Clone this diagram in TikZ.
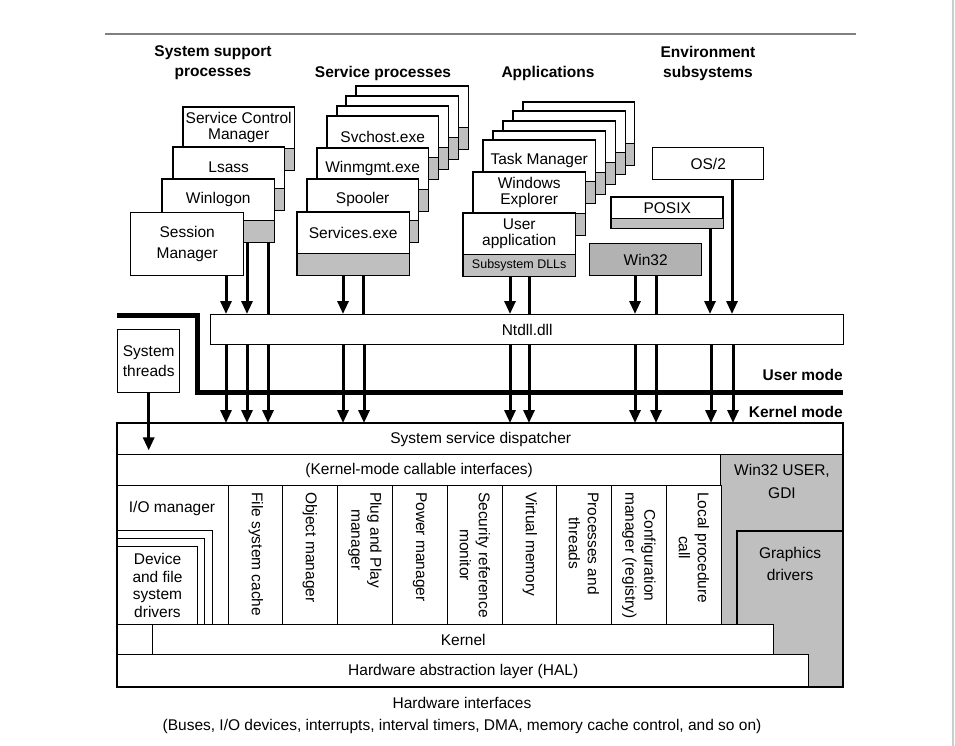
\documentclass[tikz,border=0pt]{standalone}
\usepackage{fontspec}
\setmainfont{Liberation Sans}
\usetikzlibrary{arrows.meta,calc}
\newcommand{\diagfont}{\fontsize{15.5pt}{18pt}\selectfont}
\newcommand{\procbox}[5]{%
  \node[stackbox, anchor=north west, minimum width={(#4-#2)*1pt}] (#1) at (#2,#3) {};
  \fill[bandgray] ([yshift=22pt]#1.south west) rectangle (#1.south east);
  \draw[boxline] ([yshift=22pt]#1.south west) -- ([yshift=22pt]#1.south east);
  \draw[boxline] (#1.north west) rectangle (#1.south east);
  \node[align=center, font=\fontsize{15.5pt}{15.5pt}\selectfont] (#1-txt) at ($(#1.north)!0.5!([yshift=22pt]#1.south)$) {#5};
}
\begin{document}
\begin{tikzpicture}[x=1pt,y=-1pt,
  every node/.style={font=\diagfont},
  boxline/.style={line width=1.4pt},
  box/.style={draw, line width=1.4pt, fill=white, inner sep=0pt, anchor=north west, align=center},
  stackbox/.style={fill=white, inner sep=0pt, minimum height=63pt},
  bandgray/.style={fill=black!25},
  heading/.style={font=\fontsize{15.5pt}{20pt}\selectfont\bfseries, align=center},
  arr/.style={line width=3pt, -{Triangle[width=11pt,length=13pt]}},
  link/.style={line width=3pt},
  coltext/.style={rotate=-90, anchor=west, align=center, inner sep=0pt, font=\fontsize{15.5pt}{19pt}\selectfont}]
\useasboundingbox (0,0) rectangle (955,746);
\draw[line width=2.5pt, black!50] (105,34) -- (856,34);
\draw[line width=1.5pt, black!20] (953,0) -- (953,746);

\node[heading] (hsys) at (213,63) {System support\\processes};
\node[heading] (hsvc) at (383,73) {Service processes};
\node[heading] (happ) at (548,73) {Applications};
\node[heading] (henv) at (708,63) {Environment\\subsystems};

\procbox{scm}{183}{107}{294}{Service Control\\Manager}
\procbox{lsass}{173}{147}{284}{Lsass}
\procbox{winlogon}{162}{179}{274}{Winlogon}
\node[box, minimum width=113pt, minimum height=63pt, font=\fontsize{15.5pt}{21pt}\selectfont] (sm) at (130,212) {Session\\Manager};

\procbox{svcc}{356}{86}{468}{}
\procbox{svcb}{346}{96}{458}{}
\procbox{svca}{337}{106}{448}{}
\procbox{svchost}{327}{116}{438}{Svchost.exe}
\procbox{winmgmt}{317}{148}{428}{Winmgmt.exe}
\procbox{spooler}{307}{179}{418}{Spooler}
\procbox{services}{297}{212}{409}{Services.exe}

\procbox{appd}{523}{102}{634}{}
\procbox{appc}{513}{111}{625}{}
\procbox{appb}{503}{121}{615}{}
\procbox{appa}{493}{131}{605}{}
\procbox{taskmgr}{483}{140}{595}{Task Manager}
\procbox{explorer}{473}{172}{585}{Windows\\Explorer}
\procbox{userapp}{463}{213}{575}{User\\application}
\node[font=\fontsize{12.5pt}{14pt}\selectfont] (dlls) at ([yshift=11pt]userapp.south) {Subsystem DLLs};

\node[box, minimum width=111pt, minimum height=32pt] (os2) at (652,147) {OS/2};
\node[box, minimum width=111pt, minimum height=30pt] (posix) at (611,197) {};
\fill[bandgray] ([yshift=10pt]posix.south west) rectangle (posix.south east);
\draw[boxline] ([yshift=10pt]posix.south west) -- ([yshift=10pt]posix.south east);
\draw[boxline] (posix.north west) rectangle (posix.south east);
\node (posix-txt) at ($(posix.north)!0.5!([yshift=10pt]posix.south)$) {POSIX};
\node[box, fill=black!30, minimum width=112pt, minimum height=32pt] (win32) at (589,243) {Win32};

\node[box, minimum width=633pt, minimum height=30pt] (ntdll) at (210,314) {Ntdll.dll};

\draw[arr] (226,0 |- sm.south) -- (226,0 |- ntdll.north);
\draw[arr] (247,0 |- winlogon.south) -- (247,0 |- ntdll.north);
\draw[link] (268,0 |- winlogon.south) -- (268,0 |- ntdll.north);
\draw[arr] (343,0 |- services.south) -- (343,0 |- ntdll.north);
\draw[link] (363,0 |- services.south) -- (363,0 |- ntdll.north);
\draw[arr] (510,0 |- userapp.south) -- (510,0 |- ntdll.north);
\draw[link] (529,0 |- userapp.south) -- (529,0 |- ntdll.north);
\draw[arr] (635,0 |- win32.south) -- (635,0 |- ntdll.north);
\draw[link] (656,0 |- win32.south) -- (656,0 |- ntdll.north);
\draw[arr] (710,0 |- posix.south) -- (710,0 |- ntdll.north);
\draw[arr] (732,0 |- os2.south) -- (732,0 |- ntdll.north);

\draw[line width=5pt] (117,315) -- (197,315) -- (197,392) -- (843,392);
\node[font=\diagfont\bfseries, anchor=east, inner sep=0pt] (umode) at (843,375) {User mode};
\node[font=\diagfont\bfseries, anchor=east, inner sep=0pt] (kmode) at (843,412) {Kernel mode};
\node[box, minimum width=62pt, minimum height=63pt, font=\fontsize{15.5pt}{20pt}\selectfont] (threads) at (117,329) {System\\threads};

\fill[black!25] (720,454) rectangle (843,687);
\draw[boxline] (737,687) -- (737,531) -- (843,531);
\node[box, minimum width=726pt, minimum height=31pt] (disp) at (117,423) {System service dispatcher};
\node[box, minimum width=603pt, minimum height=31pt] (calls) at (117,454) {(Kernel-mode callable interfaces)};

\foreach \x in {226,247,268,343,364,510,529,635,656,711,733}
  \draw[arr] (\x,0 |- ntdll.south) -- (\x,0 |- disp.north);
\draw[arr, shorten >=5pt] (threads) -- (threads |- disp.south);

\foreach \cid/\x/\txt in {fsc/228/{File system cache}, obj/282/{Object manager}, pnp/337/{Plug and Play\\manager}, pwr/392/{Power manager}, srm/447/{Security reference\\monitor}, vm/502/{Virtual memory}, proc/556/{Processes and\\threads}, cfg/611/{Configuration\\manager (registry)}, lpc/666/{Local procedure\\call}}
{
  \node[box, minimum width=54.5pt, minimum height=139pt] (\cid) at (\x,485) {};
  \node[coltext] (\cid-txt) at ([yshift=-7pt]\cid.north) {\txt};
}

\node (iomgr) at (172,508) {I/O manager};
\draw[boxline, line width=1pt] (117,530) -| (212,624);
\draw[boxline, line width=1pt] (117,538) -| (204,624);
\node[box, line width=1pt, minimum width=80pt, minimum height=78pt, font=\fontsize{15.5pt}{17.5pt}\selectfont] (drivers) at (117,546) {Device\\and file\\system\\drivers};

\node[box, minimum width=621pt, minimum height=30pt] (kernel) at (152,624) {Kernel};
\node[box, minimum width=691pt, minimum height=33pt] (hal) at (117,654) {Hardware abstraction layer (HAL)};
\draw[boxline] (117,423) rectangle (843,687);
\node[align=center, font=\fontsize{15.5pt}{23pt}\selectfont] (gdi) at (782,481) {Win32 USER,\\GDI};
\node[align=center, font=\fontsize{15.5pt}{22pt}\selectfont] (gfx) at (790,564) {Graphics\\drivers};
\node[align=center, font=\fontsize{15.5pt}{22pt}\selectfont] (hwif) at (462,715) {Hardware interfaces\\(Buses, I/O devices, interrupts, interval timers, DMA, memory cache control, and so on)};
\end{tikzpicture}
\end{document}
